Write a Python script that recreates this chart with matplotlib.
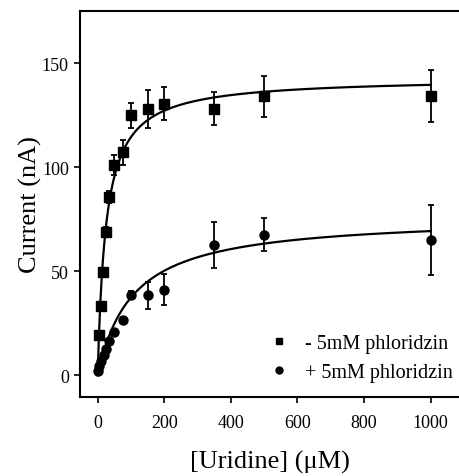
import numpy as np
import matplotlib
matplotlib.use("Agg")
import matplotlib.pyplot as plt
from matplotlib.lines import Line2D

plt.rcParams['font.family'] = ['Liberation Serif', 'DejaVu Serif']

# - 5mM phloridzin (squares)
conc_minus = [5, 10, 15, 25, 35, 50, 75, 100, 150, 200, 350, 500, 1000]
cur_minus = [19.5, 33, 49.5, 69, 85.5, 101, 107, 125, 128, 130.5, 128, 134, 134.3]
err_minus = [1.5, 1.5, 2, 2, 3, 5, 6, 6, 9, 8, 8, 10, 12.5]

# + 5mM phloridzin (circles)
conc_plus = [0, 5, 10, 20, 25, 35, 50, 75, 100, 150, 200, 350, 500, 1000]
cur_plus = [2, 4.5, 7, 9.5, 12.5, 16.5, 20.5, 26.5, 38.5, 38.5, 41, 62.5, 67.5, 65]
err_plus = [1, 1, 1, 1, 1, 1, 1.5, 1.5, 2, 6.5, 7.5, 11, 8, 17]

# Michaelis-Menten fit parameters (Vmax nA, Km uM)
vmax_minus, km_minus = 143.0, 25.0
vmax_plus, km_plus = 76.5, 105.0

fig = plt.figure(figsize=(4.59, 4.77), dpi=100)
ax = fig.add_axes([80/459, 79/477, 379/459, 386/477])

xfit = np.linspace(0, 1000, 500)
ax.plot(xfit, vmax_minus*xfit/(km_minus + xfit), color='black', lw=1.6)
ax.plot(xfit, vmax_plus*xfit/(km_plus + xfit), color='black', lw=1.6)

ax.errorbar(conc_minus, cur_minus, yerr=err_minus, fmt='s', color='black',
            ms=6.5, elinewidth=1.3, capsize=2.5, capthick=1.3)
ax.errorbar(conc_plus, cur_plus, yerr=err_plus, fmt='o', color='black',
            ms=6.5, elinewidth=1.3, capsize=2.5, capthick=1.3)

ax.set_xlim(-53, 1085)
ax.set_ylim(-10.5, 175)
ax.set_xticks([0, 200, 400, 600, 800, 1000])
ax.set_yticks([0, 50, 100, 150])
ax.tick_params(direction='out', length=4, width=1.2, labelsize=13, pad=4)
ax.tick_params(axis='x', pad=8)
for s in ['left', 'top', 'bottom']:
    ax.spines[s].set_linewidth(1.5)
ax.spines['right'].set_visible(False)

ax.set_xlabel('[Uridine] (\u03bcM)', fontsize=19, labelpad=14)
ax.set_ylabel('Current (nA)', fontsize=19, labelpad=0)

handles = [Line2D([], [], marker='s', ls='none', color='black', ms=5),
           Line2D([], [], marker='o', ls='none', color='black', ms=5)]
ax.legend(handles, ['- 5mM phloridzin', '+ 5mM phloridzin'], loc='lower right',
          bbox_to_anchor=(1.005, 0.018), frameon=False, fontsize=14.5,
          handlelength=0.8, handletextpad=0.9, labelspacing=0.5, borderaxespad=0)

fig.savefig('out.png', dpi=100)
